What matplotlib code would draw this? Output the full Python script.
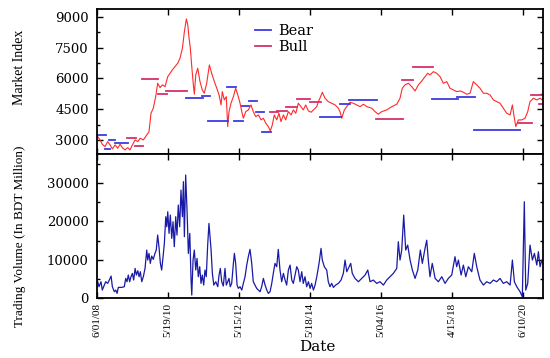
import matplotlib
matplotlib.use("Agg")
import matplotlib.pyplot as plt
from matplotlib.ticker import MultipleLocator

# trading-day index of each reading and the DSE index value there
index_day = [5, 21, 37, 56, 75, 92, 108, 127, 146, 162, 178, 197, 216, 232, 249, 268, 287, 303, 326, 350,
             366, 380, 396, 413, 427, 444, 460, 479, 498, 514, 530, 549, 568, 584, 601, 615, 629, 639, 648, 657,
             667, 676, 685, 695, 709, 725, 741, 755, 772, 791, 807, 826, 843, 859, 873, 882, 896, 910, 920, 929,
             943, 960, 976, 991, 1007, 1019, 1030, 1047, 1065, 1084, 1100, 1117, 1136, 1155, 1171, 1188, 1206,
             1220, 1234, 1248, 1265, 1281, 1295, 1312, 1328, 1347, 1366, 1382, 1399, 1417, 1436, 1452, 1469,
             1488, 1507, 1523, 1547, 1558, 1570, 1586, 1605, 1628, 1652, 1676, 1699, 1711, 1723, 1741, 1758,
             1781, 1804, 1828, 1852, 1875, 1899, 1934, 1957, 1980, 2004, 2039, 2075, 2110, 2133, 2149, 2168,
             2192, 2215, 2239, 2262, 2286, 2309, 2328, 2344, 2368, 2391, 2415, 2438, 2462, 2485, 2508, 2532,
             2556, 2579, 2603, 2626, 2649, 2673, 2696, 2720, 2743, 2767, 2790, 2814, 2837, 2860, 2884, 2908,
             2924, 2938, 2948, 2966, 2990, 3013, 3032, 3048, 3072, 3096, 3119, 3135]
index_val = [3161, 3000, 2791, 2674, 2917, 2757, 2562, 2757, 2596, 2791, 2625, 2513, 2625, 2513, 2757, 3000,
             2917, 3083, 3000, 3244, 3404, 4300, 4544, 5109, 5761, 5547, 5679, 5596, 6083, 6248, 6409, 6570,
             6735, 6979, 7466, 8274, 8893, 8601, 7953, 7466, 6570, 5839, 5226, 6166, 6492, 5839, 5435, 5274,
             5761, 6653, 6248, 5839, 5518, 5192, 4705, 5352, 4948, 5109, 3648, 4378, 4787, 5109, 5518, 5192,
             4787, 4378, 4057, 4378, 4461, 4705, 4378, 4135, 4218, 3974, 4057, 3813, 3648, 3438, 3731, 4218,
             3974, 4300, 3891, 4218, 3974, 4378, 4218, 4461, 4300, 4787, 4622, 4461, 4705, 4412, 4349, 4461,
             4622, 4865, 5045, 5323, 5031, 4865, 4787, 4705, 4544, 4364, 4057, 4461, 4622, 4836, 4787, 4705,
             4622, 4739, 4622, 4544, 4378, 4252, 4378, 4461, 4622, 4739, 5031, 5518, 5679, 5761, 5596, 5386,
             5679, 5873, 6083, 6248, 6166, 6326, 6248, 6083, 5761, 5839, 5518, 5435, 5352, 5386, 5323, 5226,
             5274, 5839, 5679, 5518, 5274, 5274, 5192, 4948, 4865, 4787, 4544, 4300, 4218, 4705, 4057, 3648,
             3974, 3974, 4057, 4378, 4865, 5031, 4948, 5031, 4948]

# bear / bull regime levels: start day, end day, mean level
bear_start = [0, 56, 84, 127, 627, 739, 784, 913, 967, 1023, 1070, 1117, 1164, 1570, 1711, 1774, 2360, 2532, 2656]
bear_end = [63, 92, 130, 218, 746, 796, 920, 976, 1030, 1070, 1124, 1178, 1225, 1718, 1781, 1969, 2539, 2661, 2978]
bear_level = [3240, 2560, 3000, 2870, 5030, 5140, 3940, 5570, 3940, 4660, 4900, 4380, 3400, 4135, 4740, 4950,
              5010, 5080, 3490]
bull_start = [209, 268, 319, 427, 484, 1218, 1265, 1328, 1406, 1500, 1964, 2145, 2227, 2966, 3055, 3112]
bull_end = [272, 326, 429, 491, 631, 1272, 1335, 1406, 1500, 1577, 2152, 2227, 2368, 3060, 3130, 3140]
bull_level = [3110, 2720, 5980, 5230, 5400, 4340, 4410, 4600, 4980, 4860, 4020, 5920, 6570, 3840, 5190, 4740]

volume_day = [5, 14, 28, 37, 51, 61, 75, 92, 99, 108, 122, 132, 141, 150, 174, 192, 202, 211, 220, 230, 239,
              249, 258, 268, 277, 287, 296, 305, 315, 326, 338, 350, 357, 366, 375, 385, 396, 408, 417, 427,
              436, 446, 455, 465, 474, 484, 491, 498, 507, 516, 526, 535, 544, 554, 563, 572, 582, 591, 601,
              608, 615, 624, 634, 643, 653, 662, 667, 676, 685, 695, 704, 713, 723, 732, 741, 751, 760, 769,
              779, 788, 803, 812, 822, 836, 850, 859, 868, 878, 889, 901, 910, 920, 929, 938, 948, 960, 967,
              976, 986, 995, 1007, 1019, 1030, 1042, 1054, 1065, 1077, 1089, 1100, 1112, 1124, 1136, 1148,
              1159, 1171, 1183, 1195, 1206, 1218, 1230, 1241, 1253, 1265, 1276, 1288, 1300, 1312, 1324, 1335,
              1347, 1359, 1371, 1382, 1394, 1406, 1417, 1429, 1441, 1452, 1464, 1476, 1488, 1500, 1511, 1523,
              1535, 1547, 1563, 1577, 1586, 1600, 1617, 1628, 1640, 1652, 1664, 1680, 1699, 1718, 1734, 1746,
              1758, 1769, 1786, 1797, 1816, 1840, 1863, 1887, 1906, 1922, 1945, 1969, 1992, 2016, 2039, 2063,
              2086, 2110, 2121, 2133, 2145, 2159, 2173, 2187, 2204, 2220, 2239, 2258, 2276, 2290, 2309, 2321,
              2332, 2344, 2360, 2380, 2403, 2427, 2450, 2473, 2497, 2520, 2532, 2544, 2563, 2579, 2596, 2614,
              2638, 2656, 2673, 2696, 2720, 2743, 2767, 2790, 2814, 2837, 2860, 2884, 2908, 2924, 2938, 2955,
              2978, 2994, 3008, 3018, 3032, 3048, 3065, 3079, 3096, 3107, 3119, 3131, 3140]
volume_val = [4225, 2916, 4225, 2043, 3352, 4225, 3789, 5098, 5709, 2916, 1606, 2043, 1170, 2741, 2741, 2916,
              5098, 4225, 5971, 4225, 5535, 6408, 4662, 7717, 5971, 7106, 5535, 6844, 4225, 5535, 7717, 12519,
              9900, 11646, 9027, 10947, 10074, 11646, 12519, 16447, 13392, 9027, 7281, 10773, 14265, 21249,
              18630, 22559, 16884, 21686, 15574, 19939, 13392, 21249, 16447, 24304, 18630, 28232, 21249,
              30431, 16011, 32177, 22559, 11646, 16884, 4662, 733, 9900, 12519, 7281, 10337, 5535, 8154, 3789,
              5971, 3352, 7281, 5535, 13828, 19503, 12519, 6408, 3352, 4225, 2916, 5971, 7717, 4225, 3090,
              7717, 3352, 4225, 5098, 2916, 3789, 9027, 11646, 9027, 3352, 2479, 2916, 2043, 3789, 5535, 8590,
              10773, 12694, 9027, 4225, 3352, 2479, 2043, 1606, 2916, 5098, 3352, 2043, 1170, 1606, 3789,
              6408, 9027, 8154, 12694, 7281, 4225, 6408, 4662, 3352, 7281, 8590, 4662, 3789, 5971, 8154, 7281,
              4225, 6844, 3789, 5535, 2916, 4225, 2479, 3789, 2043, 3352, 5535, 9027, 12956, 9900, 8154, 7281,
              4225, 2916, 3789, 2741, 3352, 3789, 4662, 6408, 9900, 6844, 7717, 9027, 6408, 5098, 4225, 5098,
              5971, 7281, 4225, 4662, 3789, 4225, 3352, 4662, 5535, 6408, 7717, 14702, 9900, 12519, 21686,
              12519, 13828, 9900, 7281, 5098, 7281, 12519, 9027, 12956, 15100, 9900, 5535, 9027, 5098, 4225,
              5535, 3789, 5098, 5971, 10773, 8154, 9900, 5971, 8590, 5535, 8154, 6844, 11646, 8154, 4662,
              3352, 4225, 3789, 4662, 4225, 5098, 3789, 4225, 3352, 9900, 4225, 2916, 1606, 297, 25184, 2043,
              3789, 13828, 9900, 11646, 8590, 12083, 8154, 9900, 8800]

tick_days = [0, 500, 1000, 1500, 2000, 2500, 3000]
tick_labels = ["6/01/08", "5/19/10", "5/15/12", "5/18/14", "5/04/16", "4/15/18", "6/10/20"]

serif = ["Liberation Serif", "DejaVu Serif"]
wide = ["DejaVu Serif"]

fig = plt.figure(figsize=(5.5, 3.58), dpi=100)
ax1 = fig.add_axes([0.1764, 0.569, 0.811, 0.406])
ax2 = fig.add_axes([0.1764, 0.168, 0.811, 0.401], sharex=ax1)

ax1.plot(index_day, index_val, color="#ff2a2a", lw=0.8)
bear_color = "#3b3be0"
bull_color = "#d4306c"
for i, (s, e, v) in enumerate(zip(bear_start, bear_end, bear_level)):
    ax1.plot([s, e], [v, v], color=bear_color, lw=1.3, label="Bear" if i == 0 else None)
for i, (s, e, v) in enumerate(zip(bull_start, bull_end, bull_level)):
    ax1.plot([s, e], [v, v], color=bull_color, lw=1.3, label="Bull" if i == 0 else None)

ax2.plot(volume_day, volume_val, color="#1a1aa8", lw=0.9)

ax1.set_xlim(0, 3140)
ax1.set_ylim(2300, 9380)
ax2.set_ylim(0, 37600)

ax1.yaxis.set_major_locator(MultipleLocator(1500))
ax1.yaxis.set_minor_locator(MultipleLocator(750))
ax2.yaxis.set_major_locator(MultipleLocator(10000))
ax2.yaxis.set_minor_locator(MultipleLocator(5000))
ax2.set_xticks(tick_days)
ax2.set_xticklabels(tick_labels, rotation=90, family=serif, fontsize=8)

for ax in (ax1, ax2):
    ax.tick_params(which="both", direction="in", top=True, right=True, width=1.0)
    ax.tick_params(which="major", length=4)
    ax.tick_params(which="minor", length=2.5)
    ax.tick_params(axis="y", labelsize=9.5, pad=6)
    for lab in ax.get_yticklabels():
        lab.set_family(wide)
    for sp in ax.spines.values():
        sp.set_linewidth(1.3)
ax1.tick_params(axis="x", labelbottom=False)

leg = ax1.legend(loc="upper left", bbox_to_anchor=(0.325, 0.985), frameon=False,
                 handlelength=1.1, handletextpad=0.5, labelspacing=0.15,
                 prop={"family": wide, "size": 10.5})

fig.text(20 / 550, 1 - 67 / 358, "Market Index", rotation=90, ha="center", va="center",
         family=serif, fontsize=10)
fig.text(20 / 550, 1 - 236 / 358, "Trading Volume (In BDT Million)", rotation=90, ha="center",
         va="center", family=serif, fontsize=9.5)
fig.text(317 / 550, 1 - 347 / 358, "Date", ha="center", va="center", family=wide, fontsize=11)

fig.savefig("out.png", dpi=100)
